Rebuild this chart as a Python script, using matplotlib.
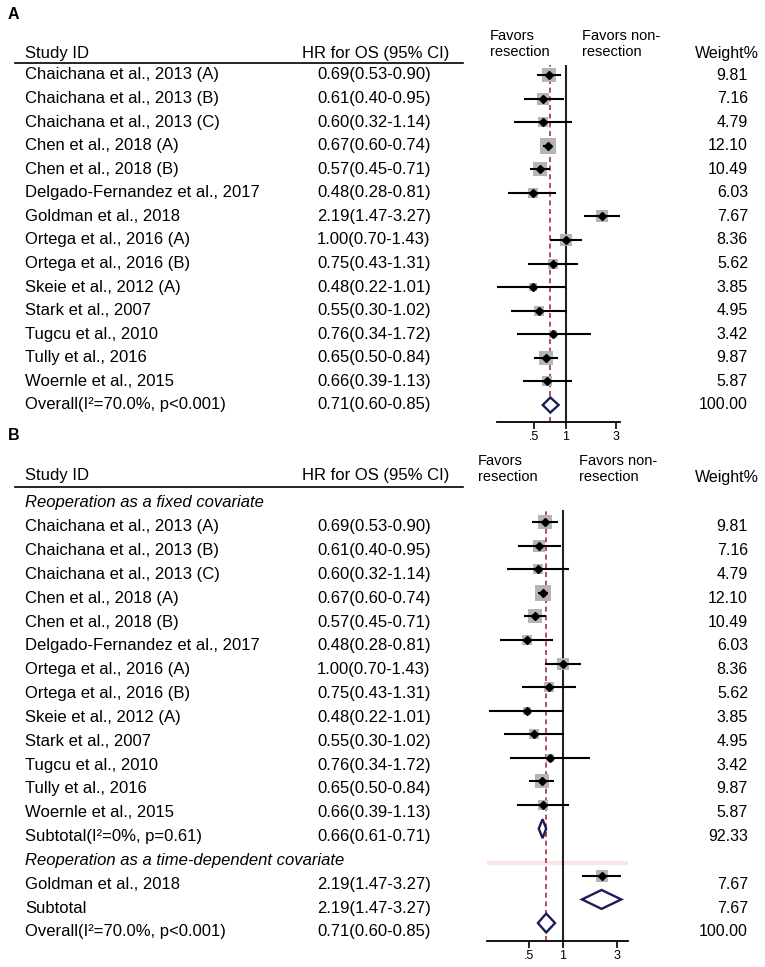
import matplotlib
matplotlib.use("Agg")
import matplotlib.pyplot as plt

plt.rcParams['font.family'] = ['Liberation Sans', 'DejaVu Sans']

# ---- data ----
studies = [
    "Chaichana et al., 2013 (A)",
    "Chaichana et al., 2013 (B)",
    "Chaichana et al., 2013 (C)",
    "Chen et al., 2018 (A)",
    "Chen et al., 2018 (B)",
    "Delgado-Fernandez et al., 2017",
    "Goldman et al., 2018",
    "Ortega et al., 2016 (A)",
    "Ortega et al., 2016 (B)",
    "Skeie et al., 2012 (A)",
    "Stark et al., 2007",
    "Tugcu et al., 2010",
    "Tully et al., 2016",
    "Woernle et al., 2015",
]
hr = [0.69, 0.61, 0.60, 0.67, 0.57, 0.48, 2.19, 1.00, 0.75, 0.48, 0.55, 0.76, 0.65, 0.66]
ci_lo = [0.53, 0.40, 0.32, 0.60, 0.45, 0.28, 1.47, 0.70, 0.43, 0.22, 0.30, 0.34, 0.50, 0.39]
ci_hi = [0.90, 0.95, 1.14, 0.74, 0.71, 0.81, 3.27, 1.43, 1.31, 1.01, 1.02, 1.72, 0.84, 1.13]
weights = [9.81, 7.16, 4.79, 12.10, 10.49, 6.03, 7.67, 8.36, 5.62, 3.85, 4.95, 3.42, 9.87, 5.87]

# pooled estimates: label, hr, lo, hi, weight
overall = ("Overall(I²=70.0%, p<0.001)", 0.71, 0.60, 0.85, 100.00)
sub_fixed = ("Subtotal(I²=0%, p=0.61)", 0.66, 0.61, 0.71, 92.33)
sub_time = ("Subtotal", 2.19, 1.47, 3.27, 7.67)

group_fixed = "Reoperation as a fixed covariate"
group_time = "Reoperation as a time-dependent covariate"
time_dep_study = "Goldman et al., 2018"

xticks = [0.5, 1, 3]
xtick_labels = [".5", "1", "3"]

W, H = 765, 967
fig = plt.figure(figsize=(W / 100, H / 100), dpi=100)

GRAY = '#b5b5b5'
NAVY = '#1c1c5c'
RED = '#a8323e'


def px_axes(x0, x1, ytop, ybot, y_row0, step):
    # axes placed in pixel box, y in row units (row 0 at pixel y_row0)
    ax = fig.add_axes([x0 / W, 1 - ybot / H, (x1 - x0) / W, (ybot - ytop) / H])
    ax.set_ylim((ybot - y_row0) / step, (ytop - y_row0) / step)
    return ax


def text_axes(ytop, ybot, y_row0, step):
    tx = px_axes(0, W, ytop, ybot, y_row0, step)
    tx.set_xlim(0, W)
    tx.axis('off')
    return tx


def forest_axes(x0, x1, ytop, ybot, y_row0, step, xlim):
    ax = px_axes(x0, x1, ytop, ybot, y_row0, step)
    ax.patch.set_alpha(0)
    ax.set_xscale('log')
    ax.set_xlim(*xlim)
    for s in ['top', 'left', 'right']:
        ax.spines[s].set_visible(False)
    ax.spines['bottom'].set_linewidth(1.3)
    ax.set_xticks(xticks)
    ax.set_xticklabels(xtick_labels)
    ax.minorticks_off()
    ax.tick_params(axis='x', length=5, width=1.2, pad=1.5, labelsize=9)
    ax.set_yticks([])
    ax.axvline(1, color='#222222', lw=1.5, zorder=1)
    ax.axvline(overall[1], color=RED, lw=1.2, ls=(0, (3, 2.2)), zorder=1)
    return ax


def draw_study(ax, r, est, lo, hi, w):
    ax.scatter([est], [r], marker='s', s=10 * w, color=GRAY, linewidths=0, zorder=2)
    ax.plot([lo, hi], [r, r], color='black', lw=1.5, zorder=3, solid_capstyle='butt')
    ax.plot([est], [r], marker='D', color='black', ms=4, zorder=4)


def draw_diamond(ax, r, est, lo, hi, half):
    ax.fill([lo, est, hi, est], [r, r - half, r, r + half],
            facecolor='white', edgecolor=NAVY, lw=1.7, zorder=4)


def row_text(tx, r, name, est, lo, hi, w):
    tx.text(25, r, name, ha='left', va='center', fontsize=12)
    tx.text(317, r, f"{est:.2f}({lo:.2f}-{hi:.2f})", ha='left', va='center', fontsize=12)
    tx.text(748, r, f"{w:.2f}", ha='right', va='center', fontsize=11.5)


def header(tx, letter, r_letter, r_fav, r_id, r_line, r_w, fav_x, non_x):
    tx.text(8, r_letter, letter, ha='left', va='center', fontsize=11.5, fontweight='bold')
    tx.text(25, r_id, "Study ID", ha='left', va='center', fontsize=12)
    tx.text(302, r_id, "HR for OS (95% CI)", ha='left', va='center', fontsize=12)
    tx.text(fav_x, r_fav, "Favors\nresection", ha='left', va='center', fontsize=10.5, linespacing=1.15)
    tx.text(non_x, r_fav, "Favors non-\nresection", ha='left', va='center', fontsize=10.5, linespacing=1.15)
    tx.text(759, r_w, "Weight%", ha='right', va='center', fontsize=11.5)
    tx.plot([15, 463], [r_line, r_line], color='black', lw=1.2)


# ---- Panel A ----
stepA = 23.57
txA = text_axes(0, 430, 75, stepA)
header(txA, "A", -2.55, -1.32, -0.93, -0.53, -0.93, 490, 582)
axA = forest_axes(497, 620, 65, 422, 75, stepA, (min(ci_lo), max(ci_hi)))
for i, name in enumerate(studies):
    row_text(txA, i, name, hr[i], ci_lo[i], ci_hi[i], weights[i])
    draw_study(axA, i, hr[i], ci_lo[i], ci_hi[i], weights[i])
r = len(studies)
row_text(txA, r, *overall)
draw_diamond(axA, r, overall[1], overall[2], overall[3], 0.32)

# ---- Panel B ----
stepB = 23.83
txB = text_axes(430, 967, 503, stepB)
header(txB, "B", -2.85, -1.43, -1.15, -0.67, -1.05, 478, 579)
axB = forest_axes(487, 628, 510, 941, 498.4, 23.59, (0.213, 3.75))

r = 0
txB.text(25, r, group_fixed, ha='left', va='center', fontsize=12, style='italic')
for i, name in enumerate(studies):
    if name == time_dep_study:
        continue
    r += 1
    row_text(txB, r, name, hr[i], ci_lo[i], ci_hi[i], weights[i])
    draw_study(axB, r, hr[i], ci_lo[i], ci_hi[i], weights[i])
r += 1
row_text(txB, r, *sub_fixed)
draw_diamond(axB, r, sub_fixed[1], sub_fixed[2], sub_fixed[3], 0.4)
r += 1
txB.text(25, r, group_time, ha='left', va='center', fontsize=12, style='italic')
axB.axhline(r + 0.45, color='#fbe4e4', lw=3, zorder=0)
for i, name in enumerate(studies):
    if name != time_dep_study:
        continue
    r += 1
    row_text(txB, r, name, hr[i], ci_lo[i], ci_hi[i], weights[i])
    draw_study(axB, r, hr[i], ci_lo[i], ci_hi[i], weights[i])
r += 1
row_text(txB, r, *sub_time)
draw_diamond(axB, r, sub_time[1], sub_time[2], sub_time[3], 0.4)
r += 1
row_text(txB, r, *overall)
draw_diamond(axB, r, overall[1], overall[2], overall[3], 0.4)

fig.savefig("out.png", dpi=100, facecolor='white')
